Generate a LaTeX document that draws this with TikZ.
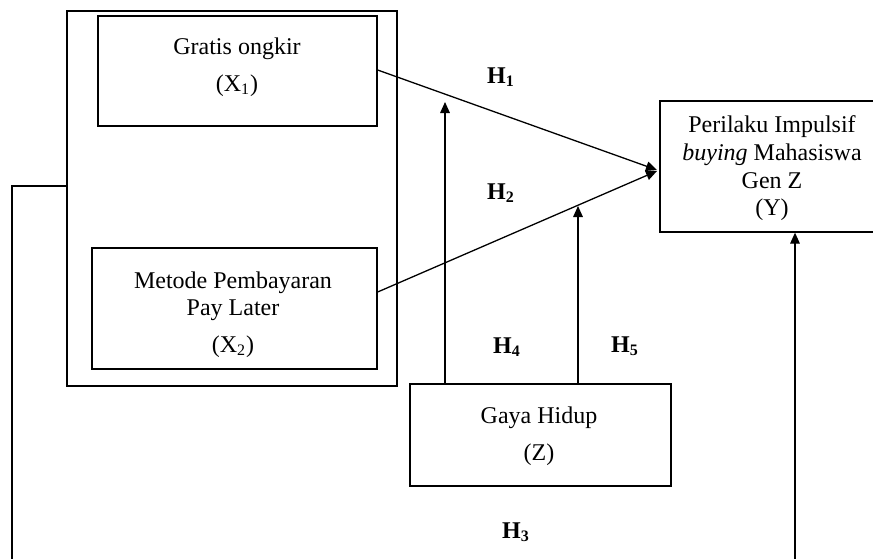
\documentclass[tikz,border=0pt]{standalone}
\usepackage{fontspec}
\setmainfont{Liberation Serif}
\usetikzlibrary{arrows.meta}
\begin{document}
\begin{tikzpicture}[x=0.5pt,y=-0.5pt,
  box/.style={draw,line width=0.65pt,inner sep=0pt},
  txt/.style={anchor=base,inner sep=0pt,font=\fontsize{12pt}{14pt}\selectfont},
  hl/.style={anchor=base,inner sep=0pt,font=\fontsize{12pt}{14pt}\selectfont\bfseries},
  conn/.style={line width=0.65pt},
  arr/.style={line width=0.65pt,-{Triangle[length=5.5pt,width=4.8pt]}}]
\useasboundingbox (0,0) rectangle (873,558);
% boxes
\node[box,minimum width=165pt,minimum height=187.5pt] (outer) at (232,198.5) {};
\node[box,minimum width=139.5pt,minimum height=55pt] (x1) at (237.5,71) {};
\node[box,minimum width=142.5pt,minimum height=60.5pt] (x2) at (234.5,308.5) {};
\node[box,minimum width=107.5pt,minimum height=65.5pt] (y) at (767.5,166.5) {};
\node[box,minimum width=130.5pt,minimum height=51pt] (z) at (540.5,435) {};
% texts
\node[txt] (t1a) at (237,54) {Gratis ongkir};
\node[txt] (t1b) at (237,91) {(X\textsubscript{1})};
\node[txt] (t2a) at (233,288) {Metode Pembayaran};
\node[txt] (t2b) at (233,315) {Pay Later};
\node[txt] (t2c) at (233,352) {(X\textsubscript{2})};
\node[txt] (tya) at (772,132) {Perilaku Impulsif};
\node[txt] (tyb) at (772,160) {\textit{buying} Mahasiswa};
\node[txt] (tyc) at (772,188) {Gen Z};
\node[txt] (tyd) at (772,215) {(Y)};
\node[txt] (tza) at (539,423) {Gaya Hidup};
\node[txt] (tzb) at (539,460) {(Z)};
% hypothesis labels
\node[hl] (h1) at (501,83) {H\textsubscript{1}};
\node[hl] (h2) at (501,199) {H\textsubscript{2}};
\node[hl] (h4) at (507,353) {H\textsubscript{4}};
\node[hl] (h5) at (625,352) {H\textsubscript{5}};
\node[hl] (h3) at (516,538) {H\textsubscript{3}};
% coordinates
\coordinate (tip1) at (657,170);
\coordinate (tip2) at (657,171);
\coordinate (m1) at (445,102);
\coordinate (m2) at (578,206);
\coordinate (lb) at (12,562);
\coordinate (rb) at (795,562);
% connectors
\draw[arr] (x1.east |- 0,70) -- (tip1);
\draw[arr] (x2.east |- 0,292) -- (tip2);
\draw[arr] (m1 |- z.north) -- (m1);
\draw[arr] (m2 |- z.north) -- (m2);
\draw[line width=1.3pt] (m2 |- z.north) -- (578,353);
\draw[conn] (outer.west |- 0,186) -| (lb);
\draw[arr] (rb) -- (rb |- y.south);
\end{tikzpicture}
\end{document}
